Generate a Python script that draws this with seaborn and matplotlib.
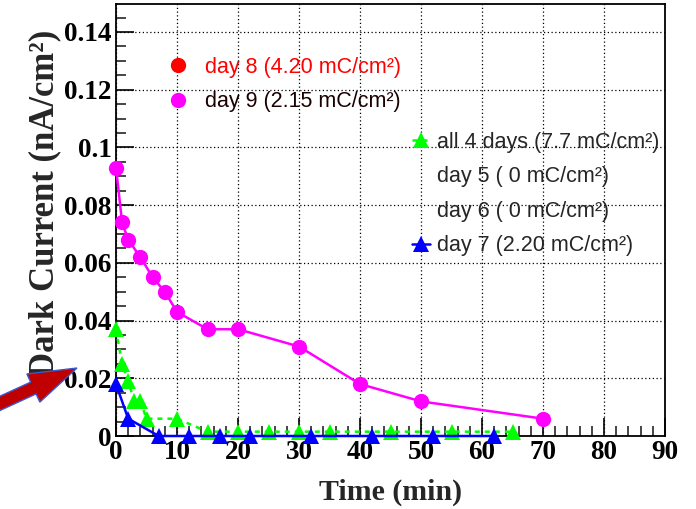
import numpy as np
import pandas as pd
import seaborn as sns
import matplotlib
matplotlib.use("Agg")
import matplotlib.pyplot as plt
from matplotlib.lines import Line2D
from matplotlib.patches import FancyArrow
from matplotlib.transforms import IdentityTransform
from matplotlib.ticker import MultipleLocator, FuncFormatter

# ---------------- data ----------------
day9_t = [0, 1, 2, 4, 6, 8, 10, 15, 20, 30, 40, 50, 70]
day9_i = [0.093, 0.074, 0.068, 0.062, 0.055, 0.050, 0.043, 0.037, 0.037, 0.031, 0.018, 0.012, 0.006]

all4_t = [0, 1, 2, 3, 4, 5, 10, 15, 20, 25, 30, 35, 45, 55, 65]
all4_i = [0.037, 0.025, 0.019, 0.012, 0.012, 0.006, 0.006, 0.0015, 0.0015, 0.0015, 0.0015, 0.0015, 0.0015, 0.0015, 0.0015]

day7_t = [0, 2, 7, 12, 17, 22, 32, 42, 52, 62]
day7_i = [0.018, 0.006, 0.0, 0.0, 0.0, 0.0, 0.0, 0.0, 0.0, 0.0]

legend1_labels = ["day 8 (4.20 mC/cm²)", "day 9 (2.15 mC/cm²)"]
legend2_labels = ["all 4 days (7.7 mC/cm²)", "day 5 ( 0 mC/cm²)",
                  "day 6 ( 0 mC/cm²)", "day 7 (2.20 mC/cm²)"]

x_label = "Time (min)"
y_label = "Dark Current (nA/cm²)"

# ---------------- style ----------------
sns.set_style("white")
plt.rcParams["font.family"] = ["Liberation Serif", "DejaVu Serif"]

W, H = 696, 509
fig = plt.figure(figsize=(W / 100, H / 100), dpi=100)
ax_l, ax_r, ax_t, ax_b = 116, 665, 4, 436
ax = fig.add_axes([ax_l / W, 1 - ax_b / H, (ax_r - ax_l) / W, (ax_b - ax_t) / H])

MAG = "#ff00ff"
GRN = "#00ff00"
BLU = "#0000ff"
RED = "#ff0000"

df9 = pd.DataFrame({"t": day9_t, "i": day9_i})
dfa = pd.DataFrame({"t": all4_t, "i": all4_i})
df7 = pd.DataFrame({"t": day7_t, "i": day7_i})

sns.lineplot(data=df9, x="t", y="i", ax=ax, color=MAG, lw=1.8, marker="o",
             markersize=11, markeredgewidth=0, legend=False, zorder=3, clip_on=False)
sns.lineplot(data=dfa, x="t", y="i", ax=ax, color=GRN, lw=1.8, marker="^",
             markersize=12, markeredgewidth=0, legend=False, zorder=4, clip_on=False,
             linestyle=(0, (2, 2)))
sns.lineplot(data=df7, x="t", y="i", ax=ax, color=BLU, lw=1.8, marker="^",
             markersize=12, markeredgewidth=0, legend=False, zorder=5, clip_on=False)

ax.set_xlim(0, 90)
ax.set_ylim(0, 0.1497)

ax.xaxis.set_major_locator(MultipleLocator(10))
ax.xaxis.set_minor_locator(MultipleLocator(2))
ax.yaxis.set_major_locator(MultipleLocator(0.02))
ax.yaxis.set_minor_locator(MultipleLocator(0.005))
ax.yaxis.set_major_formatter(FuncFormatter(lambda v, p: f"{v:.2f}".rstrip("0").rstrip(".") if v != 0 else "0"))
ax.xaxis.set_major_formatter(FuncFormatter(lambda v, p: f"{v:g}"))

ax.tick_params(axis="both", which="major", direction="in", length=13, width=1.2,
               labelsize=19.5, colors="black", pad=3)
ax.tick_params(axis="both", which="minor", direction="in", length=7, width=1.2)
ax.tick_params(axis="both", which="both", bottom=True, left=True, top=False, right=False)
for lab in ax.get_xticklabels() + ax.get_yticklabels():
    lab.set_fontweight("bold")

ax.grid(True, which="major", color="black", linestyle=(0, (1, 2)), linewidth=0.9)
for s in ax.spines.values():
    s.set_color("black")
    s.set_linewidth(1.3)

ax.set_xlabel(x_label, fontsize=21.5, fontweight="bold")
ax.set_ylabel(y_label, fontsize=25, fontweight="bold")
ax.xaxis.set_label_coords(0.50, -0.098)
ax.yaxis.label.set_verticalalignment("center")
ax.yaxis.set_label_coords(-0.13, 0.539)

# ---------------- legends ----------------
lfont = {"family": ["Liberation Sans", "DejaVu Sans"], "size": 15.5}
h1 = [Line2D([], [], color=RED, marker="o", linestyle="none", markersize=11, markeredgewidth=0),
      Line2D([], [], color=MAG, marker="o", linestyle="none", markersize=11, markeredgewidth=0)]
leg1 = ax.legend(h1, legend1_labels, loc="upper left", frameon=False, prop=lfont,
                 bbox_to_anchor=(167 / W, 1 - 57 / H), bbox_transform=fig.transFigure,
                 borderpad=0, borderaxespad=0, handlelength=1.0, handletextpad=0.77,
                 labelspacing=0.62)
leg1.get_texts()[0].set_color(RED)
leg1.get_texts()[1].set_color("#1a0000")
ax.add_artist(leg1)

h2 = [Line2D([], [], color=GRN, marker="^", linestyle=(0, (2, 2)), lw=1.8, markersize=12, markeredgewidth=0),
      Line2D([], [], linestyle="none"),
      Line2D([], [], linestyle="none"),
      Line2D([], [], color=BLU, marker="^", linestyle="-", lw=1.8, markersize=12, markeredgewidth=0)]
leg2 = ax.legend(h2, legend2_labels, loc="upper left", frameon=False, prop=lfont,
                 bbox_to_anchor=(412 / W, 1 - 132 / H), bbox_transform=fig.transFigure,
                 borderpad=0, borderaxespad=0, handlelength=0.85, handletextpad=0.31,
                 labelspacing=0.62)

# ---------------- arrow (outside axes) ----------------
arrow = FancyArrow(-8, H - 407, 85, 39, width=13, head_width=31, head_length=48,
                   length_includes_head=True, facecolor="#c00000", edgecolor="#3a5ad0",
                   linewidth=1.0, transform=IdentityTransform())
fig.patches.append(arrow)

fig.savefig("out.png", dpi=100)
